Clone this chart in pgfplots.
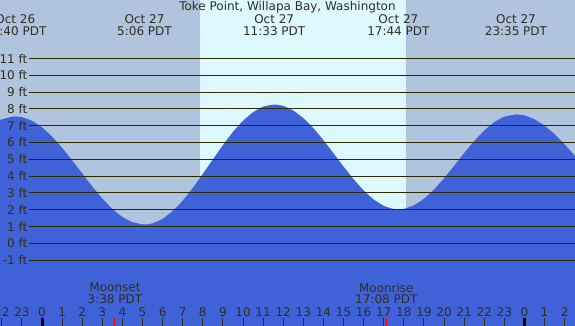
\documentclass[border=0pt]{standalone}
\usepackage{pgfplots}
\pgfplotsset{compat=1.18}
\usepackage{fontspec}
\setmainfont{DejaVu Sans}
\definecolor{night}{HTML}{B0C4DE}
\definecolor{day}{HTML}{DEF8FF}
\definecolor{tide}{HTML}{4062D8}
\definecolor{gridc}{HTML}{2B2B00}
\definecolor{txt}{HTML}{2E2E22}
\pgfplotstableread{
h ft
-2.09 7.34
-1.5 7.54
-1.33 7.55
-1 7.51
-0.5 7.29
0 6.90
0.5 6.35
1 5.68
1.5 4.94
2 4.16
2.5 3.38
3 2.67
3.5 2.05
4 1.57
4.5 1.26
5.1 1.12
5.5 1.19
6 1.46
6.5 1.92
7 2.54
7.5 3.29
8 4.13
8.5 4.99
9 5.84
9.5 6.63
10 7.29
10.5 7.80
11 8.13
11.55 8.26
12 8.18
12.5 7.90
13 7.45
13.5 6.85
14 6.14
14.5 5.36
15 4.57
15.5 3.82
16 3.15
16.5 2.61
17 2.23
17.5 2.04
17.73 2.02
18 2.05
18.5 2.26
19 2.65
19.5 3.20
20 3.87
20.5 4.61
21 5.37
21.5 6.08
22 6.71
22.5 7.21
23 7.53
23.58 7.67
24 7.61
24.5 7.38
25 7.00
25.5 6.50
26 5.89
26.52 5.19
}\tide
\begin{document}
\begin{tikzpicture}[font=\fontsize{12pt}{14pt}\selectfont]
\useasboundingbox (0,0) rectangle (575pt,326pt);
\clip (0,0) rectangle (575pt,326pt);
\begin{axis}[at={(0,0)}, anchor=south west, scale only axis,
  width=575pt, height=326pt, xmin=-2.09, xmax=26.517, ymin=-4.92, ymax=14.48,
  hide axis, clip=false]
% backgrounds
\addplot[fill=night, draw=none] coordinates {(-2.09,-4.92) (26.517,-4.92) (26.517,14.48) (-2.09,14.48)} -- cycle;
\addplot[fill=day, draw=none] coordinates {(7.86,-4.92) (18.11,-4.92) (18.11,14.48) (7.86,14.48)} -- cycle;
% tide
\addplot[fill=tide, draw=none, smooth, tension=0.3] table[x=h,y=ft] {\tide} |- (axis cs:-2.09,-4.92) -- cycle;
% grid lines and labels
\pgfplotsinvokeforeach{-1,...,11}{
  \addplot[gridc, line width=1.1pt] coordinates {(-0.632,#1) (26.517,#1)};
  \node[txt, anchor=east, inner sep=0pt] at (axis cs:-0.72,#1) {#1 ft};
}
% title and extremes
\node[txt] at (axis cs:12.21,14.05) {Toke Point, Willapa Bay, Washington};
\node[txt, inner sep=0pt] at (axis cs:-1.33,13.33) {Oct 26};
\node[txt, inner sep=0pt] at (axis cs:-1.33,12.60) {22:40 PDT};
\node[txt, inner sep=0pt] at (axis cs:5.1,13.33) {Oct 27};
\node[txt, inner sep=0pt] at (axis cs:5.1,12.60) {5:06 PDT};
\node[txt, inner sep=0pt] at (axis cs:11.55,13.33) {Oct 27};
\node[txt, inner sep=0pt] at (axis cs:11.55,12.60) {11:33 PDT};
\node[txt, inner sep=0pt] at (axis cs:17.73,13.33) {Oct 27};
\node[txt, inner sep=0pt] at (axis cs:17.73,12.60) {17:44 PDT};
\node[txt, inner sep=0pt] at (axis cs:23.58,13.33) {Oct 27};
\node[txt, inner sep=0pt] at (axis cs:23.58,12.60) {23:35 PDT};
% moon
\node[txt, inner sep=0pt] at (axis cs:3.63,-2.64) {Moonset};
\node[txt, inner sep=0pt] at (axis cs:3.63,-3.33) {3:38 PDT};
\node[txt, inner sep=0pt] at (axis cs:17.13,-2.64) {Moonrise};
\node[txt, inner sep=0pt] at (axis cs:17.13,-3.33) {17:08 PDT};
% hour labels and ticks
\pgfplotsinvokeforeach{-2,...,26}{
  \node[txt, inner sep=0pt] at (axis cs:#1,-4.07) {\pgfmathtruncatemacro\hl{mod(#1+24,24)}\hl};
  \draw[txt, line width=1pt] (axis cs:#1,-4.46) -- (axis cs:#1,-4.92);
}
\draw[black, line width=3pt] (axis cs:0,-4.46) -- (axis cs:0,-4.92);
\draw[black, line width=3pt] (axis cs:24,-4.46) -- (axis cs:24,-4.92);
\draw[red, line width=1pt] (axis cs:3.63,-4.46) -- (axis cs:3.63,-4.92);
\draw[red, line width=1pt] (axis cs:17.13,-4.46) -- (axis cs:17.13,-4.92);
\end{axis}
\end{tikzpicture}
\end{document}
